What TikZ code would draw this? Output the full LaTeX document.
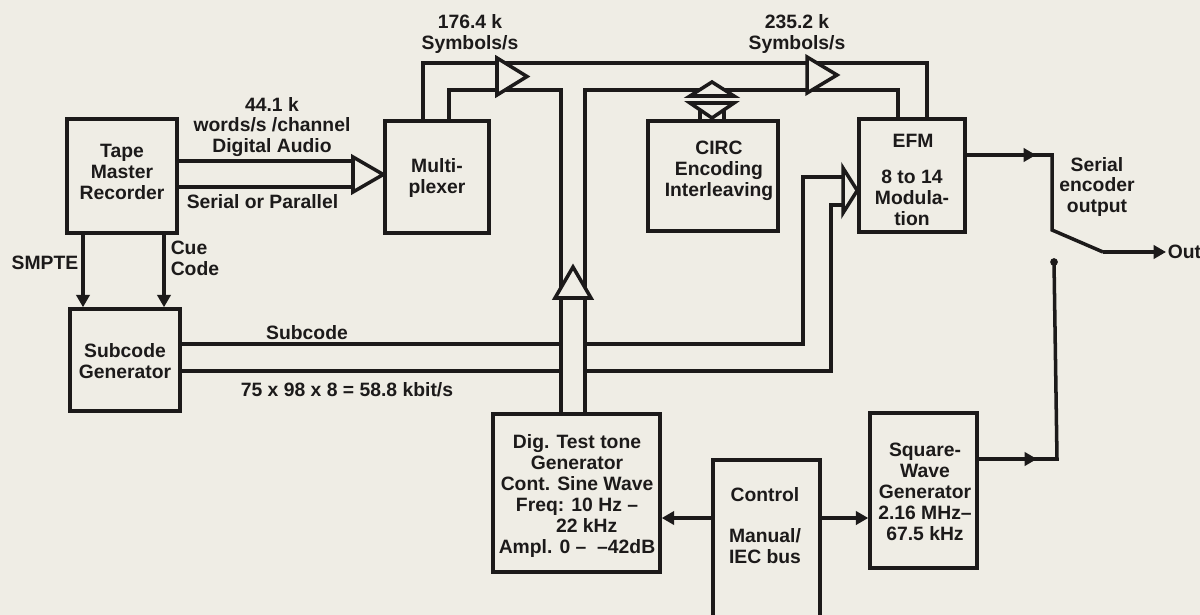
\documentclass[tikz,border=0pt]{standalone}
\usepackage{fontspec}
\setmainfont{Liberation Sans}
\usetikzlibrary{arrows.meta,fit}
\definecolor{paper}{RGB}{239,237,229}
\definecolor{ink}{RGB}{28,26,26}
\begin{document}
\begin{tikzpicture}[x=0.02cm,y=-0.02cm,
  color=ink, line width=2pt, line join=miter,
  box/.style={draw=ink, line width=2pt, inner sep=0pt},
  txt/.style={font=\fontsize{11}{11.9}\selectfont\bfseries, text=ink, align=center, inner sep=0pt},
  arr/.style={-{Triangle[length=7pt,width=7.5pt]}},
  bustri/.style={draw=ink, fill=paper, line join=miter},
]
\fill[paper] (0,0) rectangle (1200,615);
\clip (0,0) rectangle (1200,615);

% boxes
\node[box, fit={(67,119)(177,233)}] (tape) {};
\node[box, fit={(70,309)(180,411)}] (subgen) {};
\node[box, fit={(385,121)(489,233)}] (mux) {};
\node[box, fit={(648,121)(778,231)}] (circ) {};
\node[box, fit={(859,119)(965,232)}] (efm) {};
\node[box, fit={(493,414)(660,572)}] (tone) {};
\node[box, fit={(713,460)(820,640)}] (ctrl) {};
\node[box, fit={(870,413)(977,568)}] (sq) {};

% box texts
\node[txt] (tapet) at (122,172) {Tape\\Master\\Recorder};
\node[txt] (subgent) at (125,361) {Subcode\\Generator};
\node[txt] (muxt) at (437,178) {Multi-\\plexer};
\node[txt] (circt) at (719,171) {CIRC\\Encoding\\Interleaving};
\node[txt] (efmt1) at (913,141) {EFM};
\node[txt] (efmt2) at (912,198) {8 to 14\\Modula-\\tion};
\node[txt] (tonet) at (577,496) {Dig. Test tone\\Generator\\Cont. Sine Wave\\Freq: 10 Hz –\\\hspace*{1em}22 kHz\\Ampl. 0 – \ –42dB};
\node[txt] (ctrlt1) at (765,495) {Control};
\node[txt] (ctrlt2) at (765,546) {Manual/\\IEC bus};
\node[txt] (sqt) at (925,492) {Square-\\Wave\\Generator\\2.16 MHz–\\67.5 kHz};

% labels
\node[txt] (l441) at (272,127) {44.1 k\\words/s /channel\\Digital Audio};
\node[txt, anchor=west] (lser) at (185,202) {Serial or Parallel};
\node[txt] (lsmpte) at (45,263) {SMPTE};
\node[txt, align=left, anchor=west] (lcue) at (169,258) {Cue\\Code};
\node[txt] (l176) at (470,34) {176.4 k\\Symbols/s};
\node[txt] (l235) at (797,34) {235.2 k\\Symbols/s};
\node[txt] (lsub) at (307,333) {Subcode};
\node[txt] (lrate) at (347,390) {75 x 98 x 8 = 58.8 kbit/s};
\node[txt] (lser2) at (1097,187) {Serial\\encoder\\output};
\node[txt, anchor=west] (out) at (1166,252) {Out};

% bus coordinates
\coordinate (busL) at (561,90);
\coordinate (busR) at (585,90);
\coordinate (swA) at (1052,230);
\coordinate (swB) at (1103,252);
\coordinate (dot) at (1054,262);

% tape -> subcode generator
\draw[arr] (tape.south -| 83,0) -- (subgen.north -| 83,0);
\draw[arr] (tape.south -| 164,0) -- (subgen.north -| 164,0);

% digital audio bus
\draw (tape.east |- 0,161) -- (353,161);
\draw (tape.east |- 0,187) -- (353,187);
\draw[bustri] (353,157) -- (mux.west |- 0,174.5) -- (353,192) -- cycle;

% upper buses
\draw (mux.north -| 423,0) -- (423,63) -- (927,63) -- (efm.north -| 927,0);
\draw (mux.north -| 449,0) -- (449,90) -- (busL) -- (tone.north -| busL);
\draw (tone.north -| busR) -- (busR) -- (898,90) -- (efm.north -| 898,0);
\draw[bustri] (497,58) -- (527,76.5) -- (497,95) -- cycle;
\draw[bustri] (807,57) -- (837,75) -- (807,93) -- cycle;
\draw[bustri] (555,298) -- (573,267) -- (591,298) -- cycle;

% CIRC bidirectional bus
\draw (circ.north -| 700,0) -- (700,104);
\draw (circ.north -| 724,0) -- (724,104);
\draw[bustri] (690,96) -- (712,82) -- (734,96) -- cycle;
\draw[bustri] (690,103) -- (712,118) -- (734,103) -- cycle;

% subcode lines
\draw (subgen.east |- 0,344) -- (busL |- 0,344);
\draw (busR |- 0,344) -- (803,344) -- (803,177) -- (843,177);
\draw (subgen.east |- 0,371) -- (busL |- 0,371);
\draw (busR |- 0,371) -- (831,371) -- (831,205) -- (843,205);
\draw[bustri] (843,168) -- (efm.west |- 0,190.5) -- (843,213) -- cycle;

% EFM output and switch
\draw[arr] (efm.east |- 0,155) -- (1036,155);
\draw (1030,155) -- (1052,155) -- (swA) -- (swB);
\draw[arr] (swB) -- (out.west);
\fill (dot) circle (2.2pt);
\draw[arr] (sq.east |- 0,459) -- (1037,459);
\draw (1031,459) -- (1057,459) -- (dot);

% control arrows
\draw[arr] (ctrl.west |- 0,518) -- (tone.east |- 0,518);
\draw[arr] (ctrl.east |- 0,518) -- (sq.west |- 0,518);
\end{tikzpicture}
\end{document}
